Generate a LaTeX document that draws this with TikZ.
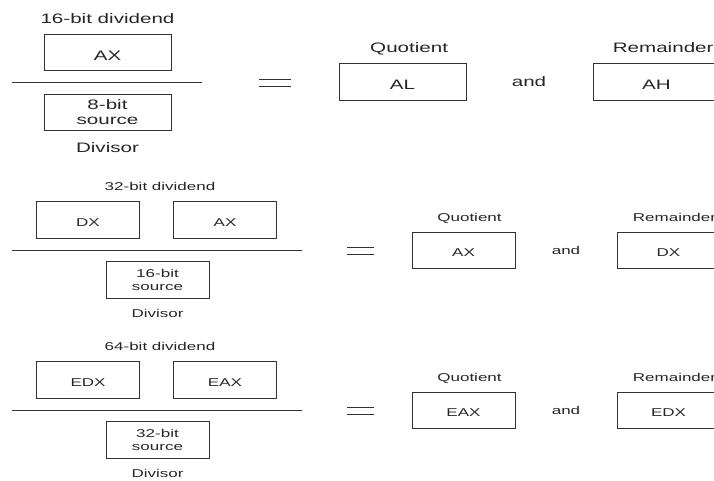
\documentclass[tikz,border=0pt]{standalone}
\usepackage{fontspec}
\newfontfamily\widesans{Liberation Sans}[FakeStretch=1.5]
\usepackage{tikz}
\usetikzlibrary{positioning}
\tikzstyle{bigbox} = [rectangle, draw=black!80, line width=0.6pt, minimum width=95.25pt, minimum height=27.5pt, inner sep=0pt, align=center, text=black!85, font=\widesans\fontsize{10.3}{11.3}\selectfont]
\tikzstyle{smallbox} = [rectangle, draw=black!80, line width=0.6pt, minimum width=77.25pt, minimum height=27.5pt, inner sep=0pt, align=center, text=black!85, font=\widesans\fontsize{8.5}{9.2}\selectfont]
\tikzstyle{bigreg} = [bigbox, text height=1.15em, text depth=0pt]
\tikzstyle{smallreg} = [smallbox, text height=0.95em, text depth=0pt]
\tikzstyle{biglabel} = [inner sep=0pt, text depth=0pt, text=black!85, font=\widesans\fontsize{10.3}{11.3}\selectfont]
\tikzstyle{smalllabel} = [inner sep=0pt, text depth=0pt, text=black!85, font=\widesans\fontsize{8.5}{9.2}\selectfont]
\tikzstyle{bar} = [draw=black!80, line width=0.6pt]

\begin{document}
\begin{tikzpicture}[x=0.75pt, y=-0.75pt]
				\clip (0,0) rectangle (714,481);
				% 16-bit dividend
				\node [bigreg] (ax1) at (107.5,52.5) {AX};
				\node [biglabel, above=7.5pt of ax1] (dvd1) {16-bit dividend};
				\node [bigbox] (src1) at (107.5,112.5) {8-bit\\source};
				\node [biglabel, below=8pt of src1] (dvs1) {Divisor};
				\node [bigreg] (al1) at (402.5,82) {AL};
				\node [biglabel, above=8pt of al1, xshift=5pt] (quo1) {Quotient};
				\node [biglabel] (and1) at (529,82) {and};
				\node [bigreg] (ah1) at (656.5,82) {AH};
				\node [biglabel, above=8pt of ah1, xshift=5pt] (rem1) {Remainder};
				\path [bar] (12,82) -- (202,82);
				\path [bar] (259,79) -- (291,79) (259,86) -- (291,86);
				% 32-bit dividend
				\node [smallreg] (dx2) at (88,220) {DX};
				\node [smallreg] (ax2) at (225,220) {AX};
				\node [smalllabel] (dvd2) at (160,186) {32-bit dividend};
				\node [smallbox] (src2) at (157.5,280) {16-bit\\source};
				\node [smalllabel, below=8pt of src2] (dvs2) {Divisor};
				\node [smallreg] (ax2q) at (463.5,250.5) {AX};
				\node [smalllabel, above=7.5pt of ax2q, xshift=4.5pt] (quo2) {Quotient};
				\node [smalllabel] (and2) at (566,250) {and};
				\node [smallreg] (dx2r) at (668.5,250.5) {DX};
				\node [smalllabel, above=7.5pt of dx2r, xshift=4.5pt] (rem2) {Remainder};
				\path [bar] (12,250) -- (302,250);
				\path [bar] (347,247) -- (374,247) (347,254) -- (374,254);
				% 64-bit dividend
				\node [smallreg] (edx3) at (88,380) {EDX};
				\node [smallreg] (eax3) at (225,380) {EAX};
				\node [smalllabel] (dvd3) at (160,346) {64-bit dividend};
				\node [smallbox] (src3) at (157.5,440) {32-bit\\source};
				\node [smalllabel, below=8pt of src3] (dvs3) {Divisor};
				\node [smallreg] (eax3q) at (463.5,410.5) {EAX};
				\node [smalllabel, above=7.5pt of eax3q, xshift=4.5pt] (quo3) {Quotient};
				\node [smalllabel] (and3) at (566,410) {and};
				\node [smallreg] (edx3r) at (668.5,410.5) {EDX};
				\node [smalllabel, above=7.5pt of edx3r, xshift=4.5pt] (rem3) {Remainder};
				\path [bar] (12,410) -- (302,410);
				\path [bar] (347,407) -- (374,407) (347,414) -- (374,414);
\end{tikzpicture}
\end{document}
